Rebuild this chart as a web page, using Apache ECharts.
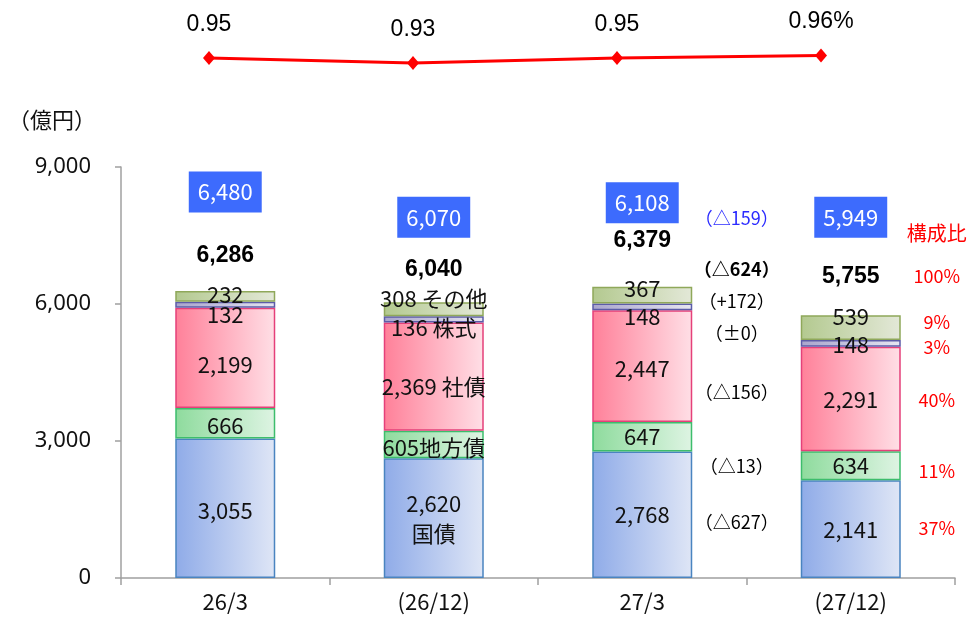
<!DOCTYPE html>
<html>
<head>
<meta charset="utf-8">
<script src="https://cdn.jsdelivr.net/npm/echarts@6/dist/echarts.min.js"></script>
<style>
html, body { margin: 0; padding: 0; background: #fff; }
#chart { width: 968px; height: 619px; }
</style>
</head>
<body>
<div id="chart"></div>
<script>
// ---- data ----
const categories = ['26/3', '(26/12)', '27/3', '(27/12)'];
const seriesNames = ['国債', '地方債', '社債', '株式', 'その他'];
const govBonds = [3055, 2620, 2768, 2141];
const localBonds = [666, 605, 647, 634];
const corpBonds = [2199, 2369, 2447, 2291];
const stocks = [132, 136, 148, 148];
const others = [232, 308, 367, 539];
const totals = [6286, 6040, 6379, 5755];
const marketValues = [6480, 6070, 6108, 5949];
const yieldRates = [0.95, 0.93, 0.95, 0.96];
const yTicks = [0, 3000, 6000, 9000];

// ---- styling / layout ----
const JP = '"Noto Sans CJK JP", "Noto Sans", sans-serif';
const LAT = '"Liberation Sans", Arial, sans-serif';
const NUM = '"Noto Sans", "Liberation Sans", sans-serif';
const segColors = [
  { from: '#8fabe8', to: '#dfe6f6', border: '#4a84c0' },
  { from: '#8edb9d', to: '#def4e3', border: '#3dbd6c' },
  { from: '#ff8099', to: '#ffdfe6', border: '#e5407a' },
  { from: '#a9a5cd', to: '#e6e6f1', border: '#5c5ca8' },
  { from: '#b3c98f', to: '#e3e8d8', border: '#8fa85a' }
];
// vertical nudges (px) of the value labels inside each segment
const segLabelShift = [
  [2, 0, 0, 1],
  [2, 3, 0, 0],
  [7, 10, 2, 1],
  [10, 8, 10, 1],
  [-2, -11, -7, -11]
];
const totalLabelShift = [-35, -33, -46, -39];
const boxLabelShift = [-99, -85, -84, -98];

const segValues = [govBonds, localBonds, corpBonds, stocks, others];
const nameSuffix = ['\n国債', '地方債', ' 社債', ' 株式', ' その他'];

// stacked mid points of the last column
const last = categories.length - 1;
const prev = last - 1;
const mids = [];
let acc = 0;
segValues.forEach(arr => { mids.push(acc + arr[last] / 2); acc += arr[last]; });

function fmt(n) { return n.toLocaleString('en-US'); }
function diffText(d) {
  if (d < 0) return '（△' + Math.abs(d) + '）';
  if (d > 0) return '（+' + d + '）';
  return '（±0）';
}

const barSeries = segValues.map((arr, s) => ({
  name: seriesNames[s],
  type: 'bar',
  stack: 'total',
  barWidth: 100,
  xAxisIndex: 0,
  yAxisIndex: 0,
  itemStyle: {
    color: new echarts.graphic.LinearGradient(0, 0, 1, 0, [
      { offset: 0, color: segColors[s].from },
      { offset: 1, color: segColors[s].to }
    ]),
    borderColor: segColors[s].border,
    borderWidth: 1.5
  },
  label: {
    show: true,
    position: 'inside',
    color: '#111',
    fontFamily: JP,
    fontSize: 22,
    lineHeight: 30,
    formatter: p => fmt(p.value) + (p.dataIndex === 1 ? nameSuffix[s] : '')
  },
  data: arr.map((v, i) => ({ value: v, label: { offset: [0, segLabelShift[s][i]] } }))
}));

// annotation helpers (invisible anchor points carrying text)
const hiddenScatter = {
  type: 'scatter',
  symbolSize: 1,
  itemStyle: { color: 'rgba(0,0,0,0)', opacity: 1 },
  silent: true,
  z: 10,
  xAxisIndex: 0,
  yAxisIndex: 0
};

const totalSeries = Object.assign({}, hiddenScatter, {
  name: 'total',
  data: totals.map((v, i) => ({
    value: [i, v],
    label: {
      show: true, position: 'inside', offset: [0, totalLabelShift[i]],
      formatter: fmt(v), fontFamily: LAT, fontWeight: 'bold', fontSize: 23, color: '#000'
    }
  }))
});

const boxSeries = Object.assign({}, hiddenScatter, {
  name: 'market',
  data: marketValues.map((v, i) => ({
    value: [i, totals[i]],
    label: {
      show: true, position: 'inside', offset: [0, boxLabelShift[i]],
      formatter: fmt(v), fontFamily: JP, fontSize: 22, lineHeight: 27, color: '#fff',
      backgroundColor: '#3d6bfd', padding: [7, 9]
    }
  }))
});

// change vs previous column, placed left of the last column
const diffItems = [
  { y: totals[last], dy: -97, d: marketValues[last] - marketValues[prev], color: '#2b2bff', bold: false },
  { y: totals[last], dy: -46, d: totals[last] - totals[prev], color: '#000', bold: true },
  { y: mids[4], dy: -26, d: others[last] - others[prev], color: '#000', bold: false },
  { y: mids[3], dy: -10, d: stocks[last] - stocks[prev], color: '#000', bold: false },
  { y: mids[2], dy: -7, d: corpBonds[last] - corpBonds[prev], color: '#000', bold: false },
  { y: mids[1], dy: 0, d: localBonds[last] - localBonds[prev], color: '#000', bold: false },
  { y: mids[0], dy: -7, d: govBonds[last] - govBonds[prev], color: '#000', bold: false }
];
const diffSeries = Object.assign({}, hiddenScatter, {
  name: 'diff',
  data: diffItems.map(it => ({
    value: [last, it.y],
    label: {
      show: true, position: 'inside', offset: [-114, it.dy],
      formatter: diffText(it.d), fontFamily: JP, fontSize: 18,
      fontWeight: it.bold ? 'bold' : 'normal', color: it.color
    }
  }))
});

// composition ratio, right of the last column
const ratioItems = [
  { y: totals[last], dy: -82, text: '構成比' },
  { y: totals[last], dy: -39, text: '100%' },
  { y: mids[4], dy: -5, text: Math.round(others[last] / totals[last] * 100) + '%' },
  { y: mids[3], dy: 4, text: Math.round(stocks[last] / totals[last] * 100) + '%' },
  { y: mids[2], dy: 1, text: Math.round(corpBonds[last] / totals[last] * 100) + '%' },
  { y: mids[1], dy: 5, text: Math.round(localBonds[last] / totals[last] * 100) + '%' },
  { y: mids[0], dy: -1, text: Math.round(govBonds[last] / totals[last] * 100) + '%' }
];
const ratioSeries = Object.assign({}, hiddenScatter, {
  name: 'ratio',
  data: ratioItems.map(it => ({
    value: [last, it.y],
    label: {
      show: true, position: 'inside', offset: [86, it.dy],
      formatter: it.text, fontFamily: JP, fontSize: it.text === '構成比' ? 20 : 18, color: '#ff0000'
    }
  }))
});

const lineSeries = {
  name: 'yield',
  type: 'line',
  xAxisIndex: 1,
  yAxisIndex: 1,
  data: yieldRates,
  symbol: 'diamond',
  symbolSize: [12, 14],
  lineStyle: { color: '#ff0000', width: 3 },
  itemStyle: { color: '#ff0000' },
  label: {
    show: true,
    position: 'top',
    distance: 15,
    fontFamily: LAT,
    fontSize: 23,
    color: '#000',
    formatter: p => p.value.toFixed(2) + (p.dataIndex === yieldRates.length - 1 ? '%' : '')
  },
  z: 5
};

const chart = echarts.init(document.getElementById('chart'), null, { renderer: 'canvas' });
chart.setOption({
  animation: false,
  backgroundColor: '#fff',
  grid: [
    { left: 121, right: 13, top: 167, bottom: 41 },
    { left: 107, width: 816, top: 45.5, height: 25 }
  ],
  xAxis: [
    {
      type: 'category', gridIndex: 0, data: categories,
      axisLine: { lineStyle: { color: '#a0a0a0', width: 1.5 } },
      axisTick: { show: true, length: 7, lineStyle: { color: '#a0a0a0', width: 1.5 } },
      axisLabel: { fontFamily: JP, fontSize: 22, color: '#111', margin: 13 }
    },
    { type: 'category', gridIndex: 1, data: categories, show: false }
  ],
  yAxis: [
    {
      type: 'value', gridIndex: 0, min: yTicks[0], max: yTicks[yTicks.length - 1], interval: 3000,
      axisLine: { show: true, lineStyle: { color: '#a0a0a0', width: 1.5 } },
      axisTick: { show: true, length: 6, lineStyle: { color: '#a0a0a0', width: 1.5 } },
      splitLine: { show: false },
      axisLabel: { fontFamily: NUM, fontSize: 22, color: '#111', margin: 30, formatter: v => fmt(v) }
    },
    { type: 'value', gridIndex: 1, min: 0.9, max: 1.0, show: false }
  ],
  graphic: [
    { type: 'text', left: 8, top: 109, style: { text: '（億円）', font: '22px ' + JP, fill: '#111' } }
  ],
  series: barSeries.concat([totalSeries, boxSeries, diffSeries, ratioSeries, lineSeries])
});
</script>
</body>
</html>
